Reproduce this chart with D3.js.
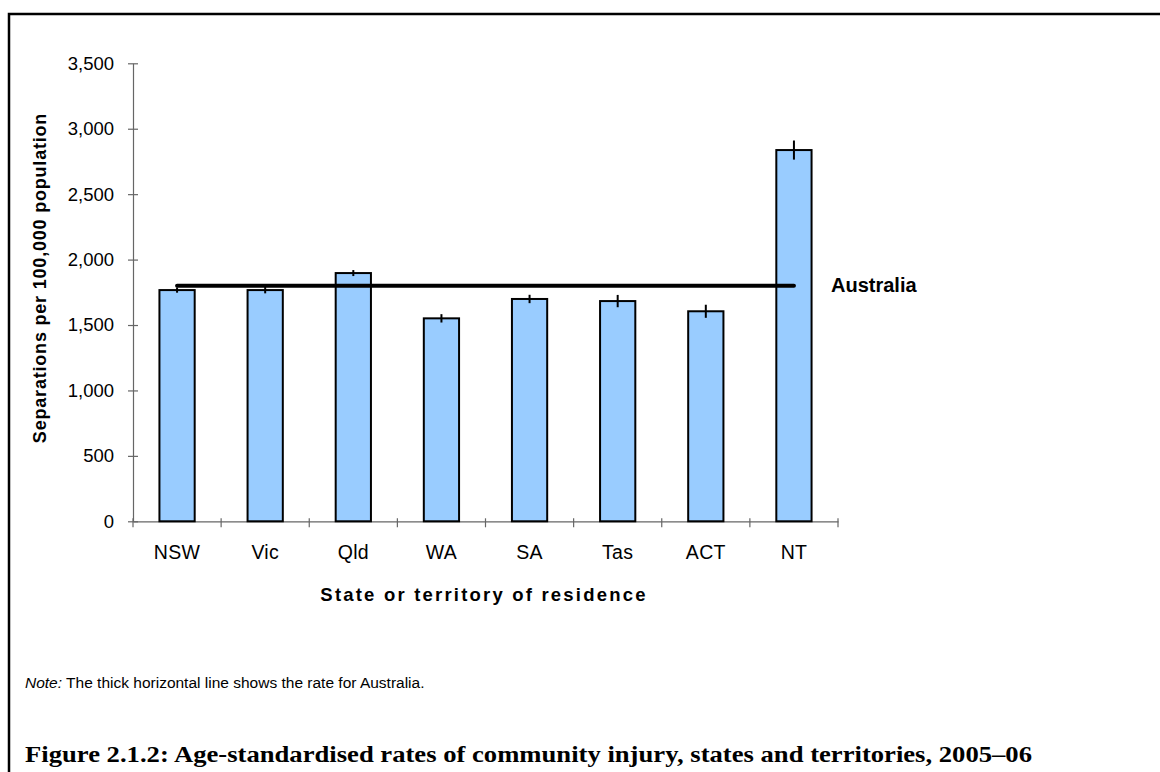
<!DOCTYPE html>
<html>
<head>
<meta charset="utf-8">
<script src="https://cdn.jsdelivr.net/npm/d3@7"></script>
<style>
  html, body { margin: 0; padding: 0; background: #fff; }
  svg { display: block; }
</style>
</head>
<body>
<svg id="chart" width="1160" height="772"></svg>
<script>
const categories = ["NSW", "Vic", "Qld", "WA", "SA", "Tas", "ACT", "NT"];
const rates = [1767, 1767, 1897, 1551, 1699, 1683, 1605, 2837];
const errors = [20, 25, 23, 32, 32, 47, 50, 73];
const australiaRate = 1800;
const yTicks = [0, 500, 1000, 1500, 2000, 2500, 3000, 3500];
const yTitle = "Separations per 100,000 population";
const xTitle = "State or territory of residence";
const lineLabel = "Australia";
const figTitle = "Figure 2.1.2: Age-standardised rates of community injury, states and territories, 2005–06";

(function () {
const svg = d3.select("#chart");
const plotLeft = 133, plotRight = 838, plotTop = 63.3, plotBottom = 521.3;

// Frame
svg.append("rect").attr("x", 9).attr("y", 14).attr("width", 1200).attr("height", 800)
  .attr("fill", "none").attr("stroke", "#000").attr("stroke-width", 2.5);

const x = d3.scaleBand().domain(categories).range([plotLeft, plotRight])
  .paddingInner(0.6).paddingOuter(0.3);
const y = d3.scaleLinear().domain([0, 3500]).range([plotBottom, plotTop]);

const g = svg.append("g");
const font = "Arial, 'Liberation Sans', sans-serif";

// Y axis
const yAxis = g.append("g").attr("transform", `translate(${plotLeft},0)`)
  .call(d3.axisLeft(y).tickValues(yTicks).tickFormat(d3.format(",")).tickSize(0).tickPadding(19));
yAxis.select(".domain").attr("stroke", "#666").attr("stroke-width", 1.2);
yAxis.selectAll(".tick text").attr("font-family", font).attr("font-size", 18.5).attr("fill", "#000");
yAxis.selectAll(".tick").append("line").attr("x1", -5).attr("x2", 5)
  .attr("stroke", "#666").attr("stroke-width", 1.2);

// X axis
const xAxis = g.append("g").attr("transform", `translate(0,${plotBottom})`)
  .call(d3.axisBottom(x).tickSize(0).tickPadding(24));
xAxis.select(".domain").attr("stroke", "#666").attr("stroke-width", 1.2);
xAxis.selectAll(".tick text").attr("font-family", font).attr("font-size", 19.5).attr("fill", "#000")
  .attr("letter-spacing", "0.3px");
const half = (x.step() - x.bandwidth()) / 2;
const bounds = categories.map(c => x(c) - half).concat([x(categories[categories.length - 1]) + x.bandwidth() + half]);
xAxis.selectAll(".bound").data(bounds).join("line").attr("class", "bound")
  .attr("x1", d => d).attr("x2", d => d).attr("y1", -3).attr("y2", 6)
  .attr("stroke", "#666").attr("stroke-width", 1.2);

// Bars
g.selectAll(".bar").data(categories).join("rect").attr("class", "bar")
  .attr("x", c => x(c)).attr("width", x.bandwidth())
  .attr("y", (c, i) => y(rates[i])).attr("height", (c, i) => plotBottom - y(rates[i]))
  .attr("fill", "#99CCFF").attr("stroke", "#000").attr("stroke-width", 2);

// Error bars
g.selectAll(".err").data(categories).join("line").attr("class", "err")
  .attr("x1", c => x(c) + x.bandwidth() / 2).attr("x2", c => x(c) + x.bandwidth() / 2)
  .attr("y1", (c, i) => y(rates[i] + errors[i])).attr("y2", (c, i) => y(rates[i] - errors[i]))
  .attr("stroke", "#000").attr("stroke-width", 2);

// Australia line
const x0 = x(categories[0]) + x.bandwidth() / 2;
const x1 = x(categories[categories.length - 1]) + x.bandwidth() / 2;
g.append("line").attr("x1", x0).attr("x2", x1).attr("y1", y(australiaRate)).attr("y2", y(australiaRate))
  .attr("stroke", "#000").attr("stroke-width", 4).attr("stroke-linecap", "round");
g.append("text").attr("x", 831).attr("y", y(australiaRate) + 6).text(lineLabel)
  .attr("font-family", font).attr("font-size", 20).attr("font-weight", "bold");

// Axis titles
svg.append("text").attr("transform", `translate(40,278) rotate(-90)`).attr("text-anchor", "middle")
  .attr("dy", "0.35em").text(yTitle)
  .attr("font-family", font).attr("font-size", 18).attr("font-weight", "bold").attr("letter-spacing", "0.8px");
svg.append("text").attr("x", 484).attr("y", 601).attr("text-anchor", "middle").text(xTitle)
  .attr("font-family", font).attr("font-size", 18.5).attr("font-weight", "bold").attr("letter-spacing", "2.2px");

// Note
const note = svg.append("text").attr("x", 25).attr("y", 688)
  .attr("font-family", font).attr("font-size", 15.5);
note.append("tspan").attr("font-style", "italic").text("Note:");
note.append("tspan").text(" The thick horizontal line shows the rate for Australia.");

// Figure title
svg.append("text").attr("x", 25).attr("y", 761.5).text(figTitle)
  .attr("font-family", "'Liberation Serif', 'DejaVu Serif', serif").attr("font-size", 24)
  .attr("font-weight", "bold").attr("textLength", 1007).attr("lengthAdjust", "spacingAndGlyphs");
})();
</script>
</body>
</html>
